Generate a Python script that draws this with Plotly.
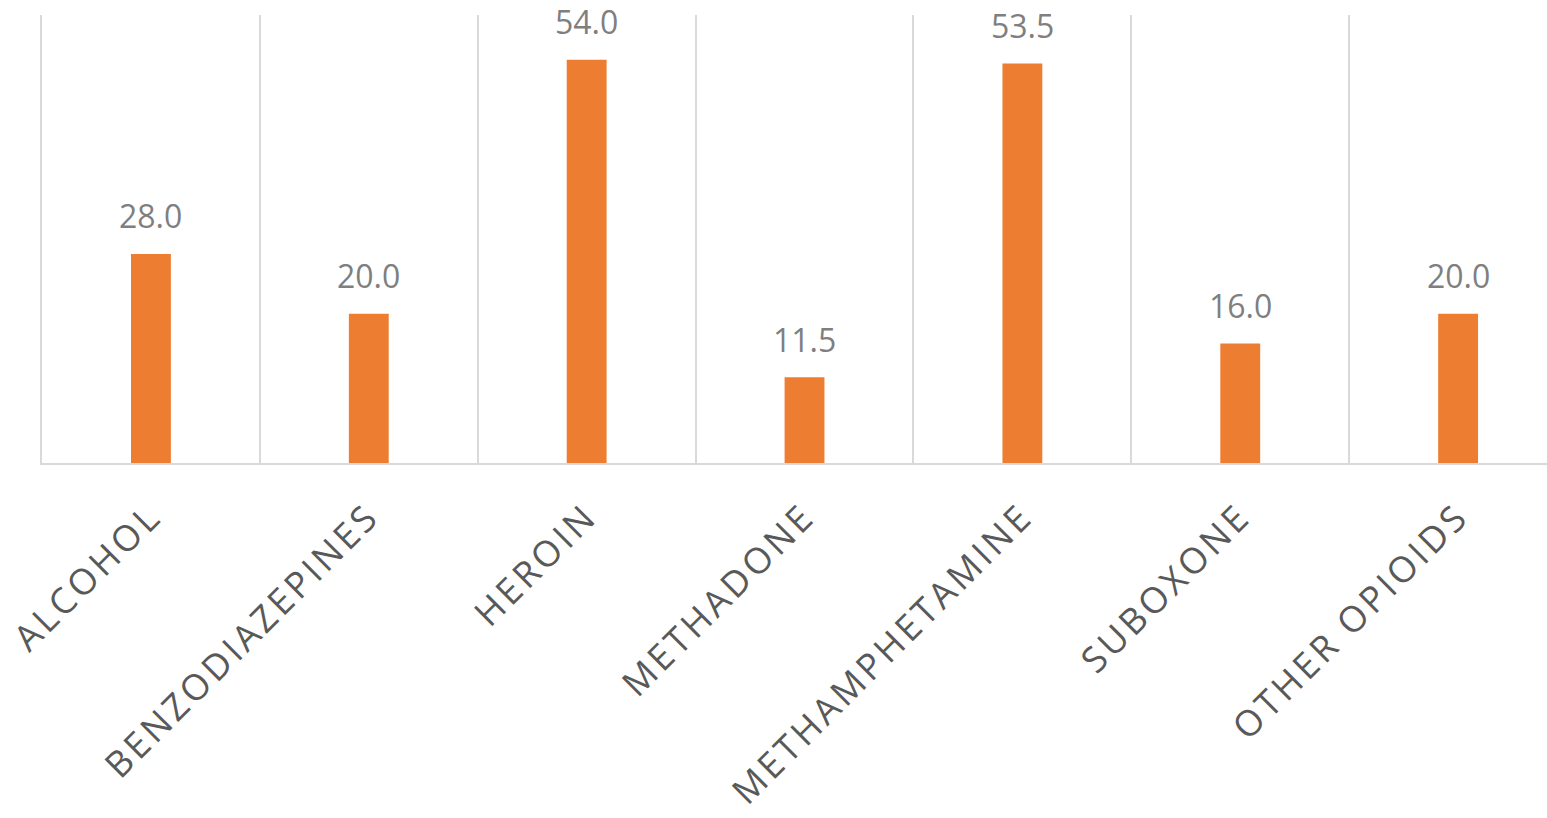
import plotly.graph_objects as go

# Substances and their values
substances = ["ALCOHOL", "BENZODIAZEPINES", "HEROIN", "METHADONE",
              "METHAMPHETAMINE", "SUBOXONE", "OTHER OPIOIDS"]
values = [28.0, 20.0, 54.0, 11.5, 53.5, 16.0, 20.0]

BAR_COLOR = "#ED7D31"
GRID_COLOR = "#D9D9D9"
LABEL_COLOR = "#595959"
VALUE_COLOR = "#7F7F7F"
FONT = "Open Sans"

fig = go.Figure()
fig.add_trace(go.Bar(
    x=substances,
    y=values,
    marker=dict(color=BAR_COLOR, line=dict(width=0)),
    hoverinfo="x+y",
))

# Value labels above each bar
for s, v in zip(substances, values):
    fig.add_annotation(
        x=s, y=v, text=f"{v:.1f}", showarrow=False,
        yanchor="middle", yshift=38,
        font=dict(family=FONT, size=32, color=VALUE_COLOR),
    )

tick_text = [f'<span style="letter-spacing:3.5px">{s}</span>' for s in substances]

fig.update_layout(
    width=1547, height=818,
    margin=dict(l=42, r=0, t=15, b=355),
    paper_bgcolor="white", plot_bgcolor="white",
    bargap=0.817,
    showlegend=False,
    xaxis=dict(
        type="category",
        range=[-0.5, 6.408],
        tickson="boundaries",
        tickvals=substances,
        ticktext=tick_text,
        showgrid=True, gridcolor=GRID_COLOR, gridwidth=2,
        showline=True, linecolor=GRID_COLOR, linewidth=2,
        ticks="", tickangle=-45,
        ticklabelstandoff=16,
        tickfont=dict(family=FONT, size=36, color=LABEL_COLOR),
    ),
    yaxis=dict(
        range=[0, 60],
        showgrid=False, zeroline=False,
        showline=True, linecolor=GRID_COLOR, linewidth=2,
        showticklabels=False, ticks="",
    ),
)

fig.write_html("out.html")
